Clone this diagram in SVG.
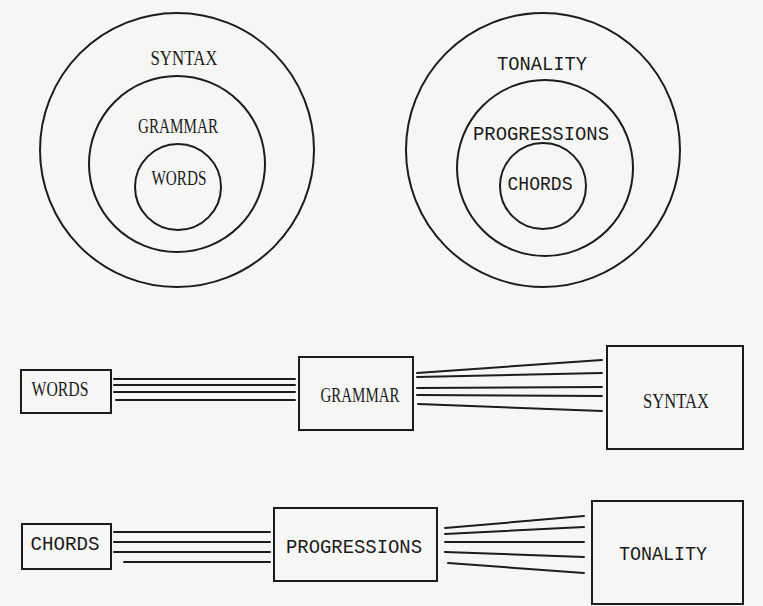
<svg xmlns="http://www.w3.org/2000/svg" width="763" height="606" viewBox="0 0 763 606">
<style>
.bg{fill:#f6f6f4}
.c{fill:none;stroke:#1c1c1c;stroke-width:2}
.b{fill:none;stroke:#1c1c1c;stroke-width:2}
.l{stroke:#1c1c1c;stroke-width:2;fill:none;stroke-linecap:round}
.s{font-family:"Liberation Serif","DejaVu Serif",serif;font-size:20px;fill:#1a1a1a;text-anchor:middle}
.m{font-family:"Liberation Mono","DejaVu Sans Mono",monospace;font-size:21px;fill:#1a1a1a;text-anchor:middle}
</style>
<rect class="bg" x="0" y="0" width="763" height="606"/>
<g id="circle-syntax"><circle class="c" cx="177" cy="150" r="137"/><text class="s" x="184" y="65" textLength="67" lengthAdjust="spacingAndGlyphs">SYNTAX</text></g>
<g id="circle-grammar"><circle class="c" cx="177" cy="164" r="88"/><text class="s" x="178" y="133" textLength="80" lengthAdjust="spacingAndGlyphs">GRAMMAR</text></g>
<g id="circle-words"><circle class="c" cx="178" cy="187" r="43"/><text class="s" x="179" y="185" textLength="55" lengthAdjust="spacingAndGlyphs">WORDS</text></g>
<g id="circle-tonality"><circle class="c" cx="543" cy="150" r="137"/><text class="m" x="542" y="70" textLength="90" lengthAdjust="spacingAndGlyphs">TONALITY</text></g>
<g id="circle-progressions"><circle class="c" cx="545" cy="168" r="88"/><text class="m" x="541" y="140" textLength="136" lengthAdjust="spacingAndGlyphs">PROGRESSIONS</text></g>
<g id="circle-chords"><circle class="c" cx="543" cy="186" r="43"/><text class="m" x="540" y="190" textLength="65" lengthAdjust="spacingAndGlyphs">CHORDS</text></g>
<g id="box-words"><rect class="b" x="21" y="370" width="90" height="43"/><text class="s" x="60" y="396" textLength="57" lengthAdjust="spacingAndGlyphs">WORDS</text></g>
<g id="box-grammar"><rect class="b" x="299" y="357" width="114" height="73"/><text class="s" x="360" y="402" textLength="79" lengthAdjust="spacingAndGlyphs">GRAMMAR</text></g>
<g id="box-syntax"><rect class="b" x="607" y="346" width="136" height="103"/><text class="s" x="676" y="408" textLength="66" lengthAdjust="spacingAndGlyphs">SYNTAX</text></g>
<g id="box-chords"><rect class="b" x="22" y="524" width="89" height="45"/><text class="m" x="65" y="550" textLength="69" lengthAdjust="spacingAndGlyphs">CHORDS</text></g>
<g id="box-progressions"><rect class="b" x="274" y="508" width="163" height="73"/><text class="m" x="354" y="553" textLength="136" lengthAdjust="spacingAndGlyphs">PROGRESSIONS</text></g>
<g id="box-tonality"><rect class="b" x="592" y="501" width="151" height="103"/><text class="m" x="663" y="560" textLength="88" lengthAdjust="spacingAndGlyphs">TONALITY</text></g>
<g id="connectors">
<line class="l" x1="114" y1="379" x2="295" y2="379"/>
<line class="l" x1="114" y1="385" x2="295" y2="385"/>
<line class="l" x1="114" y1="392" x2="295" y2="392"/>
<line class="l" x1="116" y1="400" x2="295" y2="400"/>
<line class="l" x1="417" y1="373" x2="602" y2="360"/>
<line class="l" x1="417" y1="377" x2="602" y2="373"/>
<line class="l" x1="417" y1="388" x2="602" y2="387"/>
<line class="l" x1="417" y1="395" x2="602" y2="396"/>
<line class="l" x1="418" y1="404" x2="602" y2="411"/>
<line class="l" x1="114" y1="532" x2="270" y2="532"/>
<line class="l" x1="114" y1="542" x2="270" y2="542"/>
<line class="l" x1="114" y1="552" x2="270" y2="552"/>
<line class="l" x1="124" y1="562" x2="270" y2="562"/>
<line class="l" x1="445" y1="528" x2="584" y2="516"/>
<line class="l" x1="445" y1="534" x2="584" y2="527"/>
<line class="l" x1="445" y1="542" x2="584" y2="542"/>
<line class="l" x1="445" y1="552" x2="584" y2="557"/>
<line class="l" x1="448" y1="563" x2="584" y2="573"/>
</g>
</svg>
